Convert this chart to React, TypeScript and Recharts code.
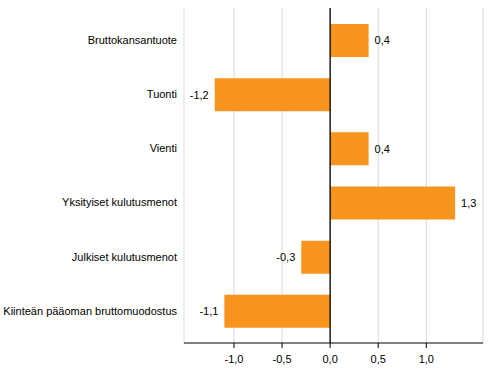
import { BarChart, Bar, XAxis, YAxis, CartesianGrid, ReferenceLine, LabelList } from "recharts"

const categories = [
  "Bruttokansantuote",
  "Tuonti",
  "Vienti",
  "Yksityiset kulutusmenot",
  "Julkiset kulutusmenot",
  "Kiinteän pääoman bruttomuodostus",
]
const values = [0.4, -1.2, 0.4, 1.3, -0.3, -1.1]
const xTicks = [-1.0, -0.5, 0.0, 0.5, 1.0]

const data = categories.map((name, i) => ({ name, value: values[i] }))

const fmt = (v: number) => v.toFixed(1).replace(".", ",")
const font = "'Liberation Sans', Arial, sans-serif"

const ValueLabel = (props: any) => {
  const { x, y, width, height, value } = props
  const end = x + width
  const pos = value >= 0
  return (
    <text
      x={pos ? end + 6 : end - 6}
      y={y + height / 2}
      dy="0.35em"
      textAnchor={pos ? "start" : "end"}
      fontSize={11}
      fontFamily={font}
      fill="#000"
    >
      {fmt(value)}
    </text>
  )
}

const CategoryTick = (props: any) => {
  const { x, y, payload } = props
  return (
    <text x={x} y={y} dy="0.35em" textAnchor="end" fontSize={11} fontFamily={font} fill="#000">
      {payload.value}
    </text>
  )
}

export default function App() {
  return (
    <div style={{ position: "absolute", left: 0, top: 0, background: "#fff" }}>
      <BarChart
        width={491}
        height={378}
        data={data}
        layout="vertical"
        margin={{ top: 8, right: 8, left: 0, bottom: 0 }}
        barSize={33}
      >
        <CartesianGrid horizontal={false} stroke="#d9d9d9" />
        <XAxis
          type="number"
          domain={[-1.52, 1.59]}
          ticks={xTicks}
          allowDataOverflow
          tickFormatter={fmt}
          height={35}
          axisLine={{ stroke: "#000" }}
          tickLine={{ stroke: "#000" }}
          tickSize={5}
          tickMargin={7}
          tick={{ fill: "#000", fontSize: 11, fontFamily: font }}
        />
        <YAxis
          type="category"
          dataKey="name"
          width={184}
          axisLine={false}
          tickLine={false}
          tickSize={5}
          tickMargin={2}
          padding={{ top: 5, bottom: 5 }}
          interval={0}
          tick={CategoryTick}
        />
        <Bar dataKey="value" fill="#F7941E" isAnimationActive={false}>
          <LabelList dataKey="value" content={ValueLabel} />
        </Bar>
        <ReferenceLine x={0} stroke="#000" strokeWidth={1.3} />
      </BarChart>
    </div>
  )
}
